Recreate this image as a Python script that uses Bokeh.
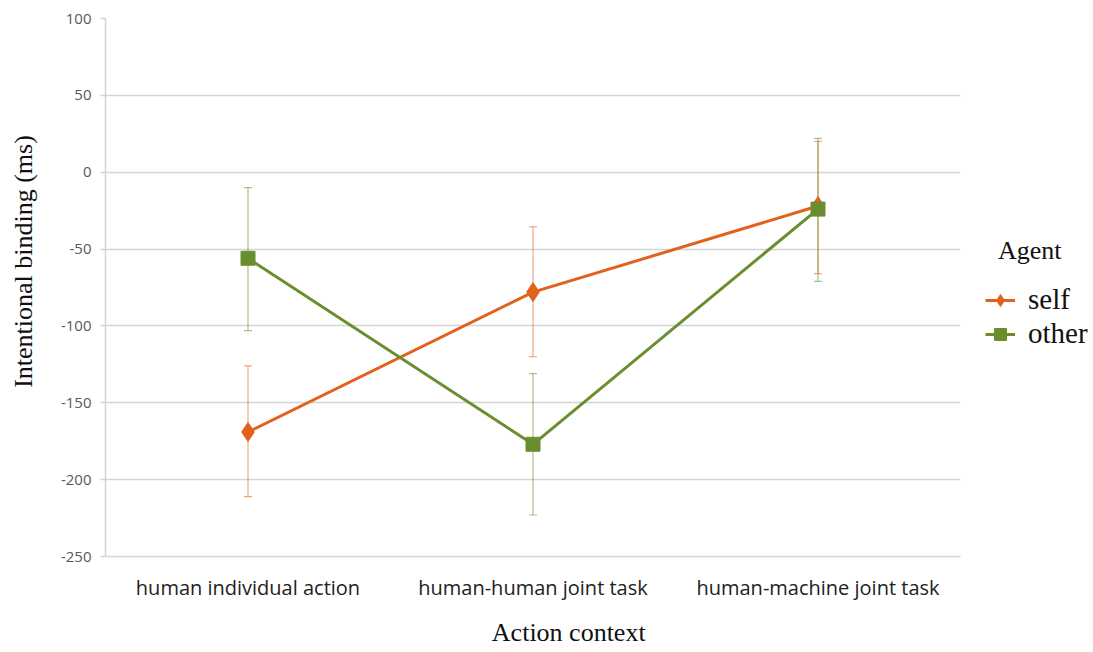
from bokeh.plotting import figure
from bokeh.layouts import row
from bokeh.models import (ColumnDataSource, FactorRange, Range1d, Whisker, TeeHead,
                          Legend, LegendItem, FixedTicker, PrintfTickFormatter)
from bokeh.embed import file_html
from bokeh.resources import INLINE

categories = ["human individual action", "human-human joint task", "human-machine joint task"]
self_mean = [-169, -78, -22]
self_upper = [-126, -35.5, 20]
self_lower = [-211, -120, -66]
other_mean = [-56, -177, -24]
other_upper = [-10, -131, 22]
other_lower = [-103, -223, -71]
y_ticks = [100, 50, 0, -50, -100, -150, -200, -250]

ORANGE = "#E2621B"
GREEN = "#6A8E2E"
GRID = "#D4D4D4"
NB = "\u00a0"

W, H = 965, 650
LW = 127
p = figure(width=W, height=H, output_backend="svg", toolbar_location=None,
           x_range=FactorRange(*categories, range_padding=0),
           y_range=Range1d(-250, 100),
           min_border_left=105, min_border_right=W - 960, min_border_top=18,
           min_border_bottom=H - 556)
p.outline_line_color = None
p.background_fill_color = "white"
p.border_fill_color = "white"

p.yaxis.ticker = FixedTicker(ticks=y_ticks)
p.yaxis.formatter = PrintfTickFormatter(format="%d")
p.ygrid.grid_line_color = GRID
p.ygrid.grid_line_width = 1.5
p.xgrid.grid_line_color = None

p.yaxis.axis_line_color = GRID
p.yaxis.axis_line_width = 1.5
p.yaxis.major_tick_line_color = GRID
p.yaxis.major_tick_line_width = 1.5
p.yaxis.major_tick_out = 5
p.yaxis.major_tick_in = 0
p.yaxis.minor_tick_line_color = None
p.yaxis.minor_tick_out = 0
p.yaxis.major_label_text_font = "Open Sans"
p.yaxis.major_label_text_font_size = "15px"
p.yaxis.major_label_text_color = "#595959"
p.yaxis.major_label_standoff = 9
# leading no-break spaces move the centred title up, as in the reference
p.yaxis.axis_label = NB * 8 + "Intentional binding (ms)"
p.yaxis.axis_label_text_font = "Liberation Serif"
p.yaxis.axis_label_text_font_style = "normal"
p.yaxis.axis_label_text_font_size = "26px"
p.yaxis.axis_label_text_color = "#111111"
p.yaxis.axis_label_standoff = 20

p.xaxis.axis_line_color = GRID
p.xaxis.axis_line_width = 1.5
p.xaxis.major_tick_line_color = None
p.xaxis.major_tick_out = 0
p.xaxis.major_tick_in = 0
p.xaxis.minor_tick_line_color = None
p.xaxis.major_label_text_font = "Open Sans"
p.xaxis.major_label_text_font_size = "20px"
p.xaxis.major_label_text_color = "#222222"
p.xaxis.major_label_standoff = 17
p.xaxis.axis_label = NB * 11 + "Action context"
p.xaxis.axis_label_text_font = "Liberation Serif"
p.xaxis.axis_label_text_font_style = "normal"
p.xaxis.axis_label_text_font_size = "26px"
p.xaxis.axis_label_text_color = "#111111"
p.xaxis.axis_label_standoff = 14

src_self = ColumnDataSource(dict(x=categories, y=self_mean, up=self_upper, lo=self_lower))
src_other = ColumnDataSource(dict(x=categories, y=other_mean, up=other_upper, lo=other_lower))

for src, col in [(src_self, ORANGE), (src_other, GREEN)]:
    w = Whisker(source=src, base="x", upper="up", lower="lo",
                line_color=col, line_alpha=0.55, line_width=1.2,
                upper_head=TeeHead(size=8, line_color=col, line_alpha=0.55, line_width=1.2),
                lower_head=TeeHead(size=8, line_color=col, line_alpha=0.55, line_width=1.2))
    p.add_layout(w)

p.line("x", "y", source=src_self, line_color=ORANGE, line_width=3)
p.scatter("x", "y", source=src_self, marker="diamond", size=19,
          fill_color=ORANGE, line_color=ORANGE)
p.line("x", "y", source=src_other, line_color=GREEN, line_width=3)
p.scatter("x", "y", source=src_other, marker="square", size=14,
          fill_color=GREEN, line_color=GREEN)

# legend panel: a second figure whose glyphs lie outside its range (only the legend shows)
lp = figure(width=LW, height=H, output_backend="svg", toolbar_location=None,
            x_range=FactorRange(*categories), y_range=Range1d(1000, 2000),
            x_axis_type=None, y_axis_type=None,
            min_border_left=0, min_border_right=0, min_border_top=0, min_border_bottom=0)
lp.outline_line_color = None
lp.grid.grid_line_color = None
lp.background_fill_color = "white"
lp.border_fill_color = "white"
ll_self = lp.line("x", "y", source=src_self, line_color=ORANGE, line_width=3)
lm_self = lp.scatter("x", "y", source=src_self, marker="diamond", size=16,
                     fill_color=ORANGE, line_color=ORANGE)
ll_other = lp.line("x", "y", source=src_other, line_color=GREEN, line_width=3)
lm_other = lp.scatter("x", "y", source=src_other, marker="square", size=12,
                      fill_color=GREEN, line_color=GREEN)

legend = Legend(items=[LegendItem(label="self", renderers=[ll_self, lm_self]),
                       LegendItem(label="other", renderers=[ll_other, lm_other])],
                location=(20, 206))
legend.margin = 0
legend.padding = 10
legend.title = NB * 2 + "Agent"
legend.title_text_font = "Liberation Serif"
legend.title_text_font_size = "26px"
legend.title_text_font_style = "normal"
legend.title_text_color = "#111111"
legend.title_standoff = 17
legend.label_text_font = "Liberation Serif"
legend.label_text_font_size = "29px"
legend.label_text_color = "#111111"
legend.label_standoff = 13
legend.glyph_width = 30
legend.glyph_height = 30
legend.spacing = 1
legend.border_line_color = None
legend.background_fill_alpha = 0
lp.add_layout(legend)

open("out.html", "w").write(file_html(row(p, lp), INLINE))
